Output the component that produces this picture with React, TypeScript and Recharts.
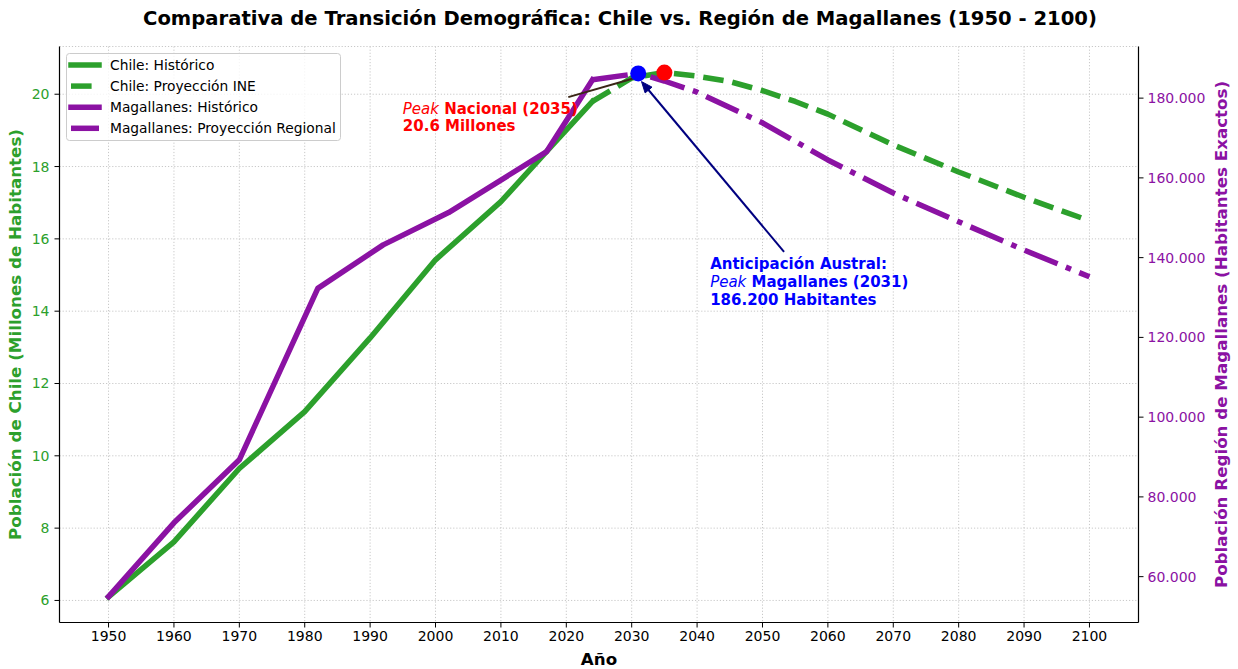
import React from 'react';
import { LineChart, Line, XAxis, YAxis, CartesianGrid, ReferenceDot, ReferenceLine } from 'recharts';

// ---------- Data ----------
const chileHistYears = [1950, 1960, 1970, 1980, 1990, 2000, 2010, 2017, 2024];
const chileHistValues = [6.1, 7.62, 9.65, 11.22, 13.26, 15.42, 17.03, 18.42, 19.8];
const chileProjYears = [2024, 2030, 2035, 2040, 2045, 2050, 2055, 2060, 2070, 2080, 2090, 2100];
const chileProjValues = [19.8, 20.45, 20.6, 20.5, 20.35, 20.1, 19.8, 19.45, 18.6, 17.85, 17.15, 16.5];
const magHistYears = [1950, 1960, 1970, 1982, 1992, 2002, 2017, 2024];
const magHistValues = [55000, 73500, 89300, 132300, 143200, 151300, 166600, 184600];
const magProjYears = [2024, 2031, 2035, 2040, 2050, 2060, 2070, 2080, 2090, 2100];
const magProjValues = [184600, 186200, 184300, 181500, 173800, 164500, 156200, 149000, 141900, 135200];

const xTicks = [1950, 1960, 1970, 1980, 1990, 2000, 2010, 2020, 2030, 2040, 2050, 2060, 2070, 2080, 2090, 2100];
const leftTicks = [6, 8, 10, 12, 14, 16, 18, 20];
const rightTicks = [60000, 80000, 100000, 120000, 140000, 160000, 180000];

const peakNacional = { year: 2035, value: 20.6 };
const peakMagallanes = { year: 2031, value: 186200 };
const redTextAnchor = { year: 1995, value: 19.35 };
const blueTextAnchor = { year: 2042, value: 133700 };
const redArrow = [{ x: 2020.3, y: 19.92 }, { x: 2030.5, y: 20.45 }];
const blueArrow = [{ x: 2053.3, y: 141450 }, { x: 2031.5, y: 184150 }];

const titleText = 'Comparativa de Transición Demográfica: Chile vs. Región de Magallanes (1950 - 2100)';
const xLabel = 'Año';
const leftLabel = 'Población de Chile (Millones de Habitantes)';
const rightLabel = 'Población Región de Magallanes (Habitantes Exactos)';

// ---------- Styles ----------
const GREEN = '#2ca02c';
const PURPLE = '#8b12a3';
const FONT = '"DejaVu Sans", sans-serif';
const LW = 5.5;
const DASH = '20.6 8.9';
const DASHDOT = '35.6 8.9 5.6 8.9';

const toSeries = (years: number[], values: number[]) => years.map((year, i) => ({ year, v: values[i] }));
const chileHist = toSeries(chileHistYears, chileHistValues);
const chileProj = toSeries(chileProjYears, chileProjValues);
const magHist = toSeries(magHistYears, magHistValues);
const magProj = toSeries(magProjYears, magProjValues);

const legendItems = [
  { label: 'Chile: Histórico', color: GREEN, dash: undefined as string | undefined },
  { label: 'Chile: Proyección INE', color: GREEN, dash: DASH },
  { label: 'Magallanes: Histórico', color: PURPLE, dash: undefined },
  { label: 'Magallanes: Proyección Regional', color: PURPLE, dash: DASHDOT },
];

const fmtThousands = (v: number) => String(v).replace(/\B(?=(\d{3})+(?!\d))/g, '.');

const W = 1238;
const H = 669;
const PLOT = { top: 46.5, left: 59.5, right: 1138.5, bottom: 622.5 };

const arrowShape = (color: string, width: number, head: boolean) => (props: any) => {
  const { x1, y1, x2, y2 } = props;
  const dx = x2 - x1;
  const dy = y2 - y1;
  const len = Math.sqrt(dx * dx + dy * dy) || 1;
  const ux = dx / len;
  const uy = dy / len;
  const hl = 11;
  const hw = 4.5;
  const bx = x2 - ux * hl;
  const by = y2 - uy * hl;
  const pts = `${x2},${y2} ${bx - uy * hw},${by + ux * hw} ${bx + uy * hw},${by - ux * hw}`;
  return (
    <g>
      <line x1={x1} y1={y1} x2={head ? bx + ux * 2 : x2} y2={head ? by + uy * 2 : y2} stroke={color} strokeWidth={width} />
      {head && <polygon points={pts} fill={color} stroke={color} strokeWidth={1} />}
    </g>
  );
};

const redTextShape = (props: any) => {
  const { cx, cy } = props;
  return (
    <text x={cx} y={cy} fontFamily={FONT} fontSize={15} fill="#ff0000" fontWeight="bold">
      <tspan x={cx} y={cy - 3.8}>
        <tspan fontStyle="italic" fontWeight="normal">Peak</tspan> Nacional (2035)
      </tspan>
      <tspan x={cx} y={cy + 13.5}>20.6 Millones</tspan>
    </text>
  );
};

const blueTextShape = (props: any) => {
  const { cx, cy } = props;
  return (
    <text x={cx} y={cy} fontFamily={FONT} fontSize={15} fill="#0000ff" fontWeight="bold">
      <tspan x={cx} y={cy - 13.7}>Anticipación Austral:</tspan>
      <tspan x={cx} y={cy + 4.5}>
        <tspan fontStyle="italic" fontWeight="normal">Peak</tspan> Magallanes (2031)
      </tspan>
      <tspan x={cx} y={cy + 22.7}>186.200 Habitantes</tspan>
    </text>
  );
};

export default function App() {
  const plotCx = (PLOT.left + PLOT.right) / 2;
  const plotCy = (PLOT.top + PLOT.bottom) / 2;
  return (
    <div style={{ position: 'absolute', left: 0, top: 0, width: W, height: H, background: '#fff', fontFamily: FONT }}>
      <LineChart
        width={W}
        height={H}
        margin={{ top: PLOT.top, left: 0, right: 0, bottom: 0 }}
        style={{ position: 'absolute', left: 0, top: 0 }}
      >
        <CartesianGrid xAxisId="x" yAxisId="left" stroke="#c8c8c8" strokeDasharray="1.2 1.9" strokeWidth={1} />
        <XAxis
          xAxisId="x"
          dataKey="year"
          type="number"
          domain={[1942.5, 2107.5]}
          ticks={xTicks}
          allowDataOverflow
          height={H - PLOT.bottom}
          tickSize={5}
          tickMargin={4}
          tick={{ fill: '#000', fontSize: 14, fontFamily: FONT }}
          tickLine={{ stroke: '#000', strokeWidth: 1 }}
          axisLine={{ stroke: '#000', strokeWidth: 1.2 }}
        />
        <XAxis
          xAxisId="top"
          orientation="top"
          dataKey="year"
          type="number"
          domain={[1942.5, 2107.5]}
          height={0}
          tick={false}
          tickLine={false}
          axisLine={{ stroke: '#000', strokeWidth: 1.2 }}
        />
        <YAxis
          yAxisId="left"
          orientation="left"
          type="number"
          domain={[5.39, 21.32]}
          ticks={leftTicks}
          allowDataOverflow
          width={PLOT.left}
          tickSize={5}
          tickMargin={5}
          tick={{ fill: GREEN, fontSize: 14, fontFamily: FONT }}
          tickLine={{ stroke: '#000', strokeWidth: 1 }}
          axisLine={{ stroke: '#000', strokeWidth: 1.2 }}
        />
        <YAxis
          yAxisId="right"
          orientation="right"
          type="number"
          domain={[48500, 192950]}
          ticks={rightTicks}
          allowDataOverflow
          width={W - PLOT.right}
          tickSize={5}
          tickMargin={4}
          tickFormatter={fmtThousands}
          tick={{ fill: PURPLE, fontSize: 14, fontFamily: FONT, textAnchor: 'start' }}
          tickLine={{ stroke: '#000', strokeWidth: 1 }}
          axisLine={{ stroke: '#000', strokeWidth: 1.2 }}
        />

        <ReferenceDot
          xAxisId="x"
          yAxisId="left"
          x={redTextAnchor.year}
          y={redTextAnchor.value}
          r={0}
          shape={redTextShape}
        />
        <ReferenceDot
          xAxisId="x"
          yAxisId="right"
          x={blueTextAnchor.year}
          y={blueTextAnchor.value}
          r={0}
          shape={blueTextShape}
        />

        <Line xAxisId="x" yAxisId="left" data={chileHist} dataKey="v" stroke={GREEN} strokeWidth={LW} strokeLinecap="square" strokeLinejoin="round" dot={false} activeDot={false} isAnimationActive={false} />
        <Line xAxisId="x" yAxisId="left" data={chileProj} dataKey="v" stroke={GREEN} strokeWidth={LW} strokeDasharray={DASH} strokeLinecap="butt" strokeLinejoin="round" dot={false} activeDot={false} isAnimationActive={false} />
        <Line xAxisId="x" yAxisId="right" data={magHist} dataKey="v" stroke={PURPLE} strokeWidth={LW} strokeLinecap="square" strokeLinejoin="round" dot={false} activeDot={false} isAnimationActive={false} />
        <Line xAxisId="x" yAxisId="right" data={magProj} dataKey="v" stroke={PURPLE} strokeWidth={LW} strokeDasharray={DASHDOT} strokeLinecap="butt" strokeLinejoin="round" dot={false} activeDot={false} isAnimationActive={false} />

        <ReferenceLine xAxisId="x" yAxisId="left" segment={redArrow} shape={arrowShape('#3a2616', 2, false)} />
        <ReferenceLine xAxisId="x" yAxisId="right" segment={blueArrow} shape={arrowShape('#000080', 2, true)} />

        <ReferenceDot xAxisId="x" yAxisId="left" x={peakNacional.year} y={peakNacional.value} r={8} fill="#ff0000" stroke="none" />
        <ReferenceDot xAxisId="x" yAxisId="right" x={peakMagallanes.year} y={peakMagallanes.value} r={8} fill="#0000ff" stroke="none" />
      </LineChart>

      <svg width={W} height={H} style={{ position: 'absolute', left: 0, top: 0, pointerEvents: 'none' }}>
        <text x={620} y={25} textAnchor="middle" fontFamily={FONT} fontSize={19.6} fontWeight="bold" fill="#000">
          {titleText}
        </text>
        <text x={plotCx} y={665} textAnchor="middle" fontFamily={FONT} fontSize={16.7} fontWeight="bold" fill="#000">
          {xLabel}
        </text>
        <text
          x={21}
          y={plotCy}
          transform={`rotate(-90 21 ${plotCy})`}
          textAnchor="middle"
          fontFamily={FONT}
          fontSize={16.7}
          fontWeight="bold"
          fill={GREEN}
        >
          {leftLabel}
        </text>
        <text
          x={1227}
          y={plotCy}
          transform={`rotate(-90 1227 ${plotCy})`}
          textAnchor="middle"
          fontFamily={FONT}
          fontSize={16.7}
          fontWeight="bold"
          fill={PURPLE}
        >
          {rightLabel}
        </text>

        <g>
          <rect x={66.5} y={53.5} width={274} height={87} rx={3} ry={3} fill="#ffffff" fillOpacity={0.8} stroke="#cccccc" strokeWidth={1} />
          {legendItems.map((item, i) => {
            const cy = 65 + i * 21.1;
            return (
              <g key={item.label}>
                <line
                  x1={71}
                  x2={99}
                  y1={cy}
                  y2={cy}
                  stroke={item.color}
                  strokeWidth={LW}
                  strokeDasharray={item.dash}
                  strokeLinecap={item.dash ? 'butt' : 'square'}
                />
                <text x={110} y={cy + 5} fontFamily={FONT} fontSize={13.8} fill="#000">
                  {item.label}
                </text>
              </g>
            );
          })}
        </g>
      </svg>
    </div>
  );
}
